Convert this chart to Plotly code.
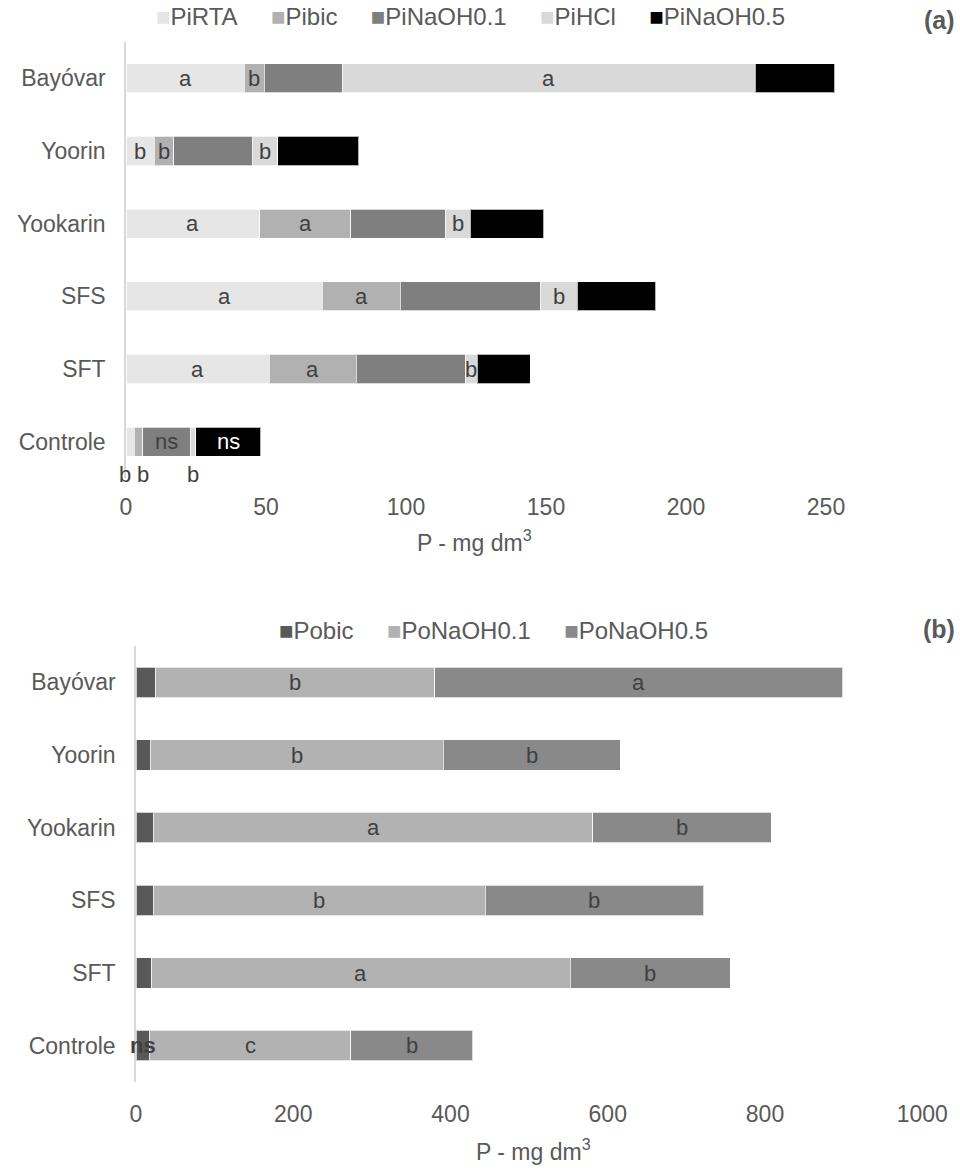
import plotly.graph_objects as go

W, H = 960, 1171

categories = ["Controle", "SFT", "SFS", "Yookarin", "Yoorin", "Bayóvar"]

# ---- (a) inorganic P fractions (P - mg dm3) ----
a_names = ["PiRTA", "Pibic", "PiNaOH0.1", "PiHCl", "PiNaOH0.5"]
a_colors = ["#e6e6e6", "#b1b1b1", "#7f7f7f", "#d9d9d9", "#000000"]
PiRTA = [3.0, 51.2, 70.0, 47.8, 10.0, 42.2]
Pibic = [2.9, 31.1, 28.0, 32.4, 7.1, 7.1]
PiNaOH01 = [17.1, 38.9, 50.0, 33.8, 27.9, 27.9]
PiHCl = [1.9, 4.2, 13.1, 8.9, 9.2, 147.5]
PiNaOH05 = [23.3, 19.0, 28.1, 26.3, 29.0, 28.4]
a_values = [PiRTA, Pibic, PiNaOH01, PiHCl, PiNaOH05]
PiRTA_txt = ["", "a", "a", "a", "b", "a"]
Pibic_txt = ["", "a", "a", "a", "b", "b"]
PiNaOH01_txt = ["ns", "", "", "", "", ""]
PiHCl_txt = ["", "b", "b", "b", "b", "a"]
PiNaOH05_txt = ["ns", "", "", "", "", ""]
a_texts = [PiRTA_txt, Pibic_txt, PiNaOH01_txt, PiHCl_txt, PiNaOH05_txt]
a_textcolors = ["#404040", "#404040", "#404040", "#404040", "#ffffff"]
# letters drawn below the Controle bar (series index, letter, nudge px)
a_below = [(0, "b", -5), (1, "b", 5), (3, "b", 0)]
a_ticks = [0, 50, 100, 150, 200, 250]

# ---- (b) organic P fractions ----
b_names = ["Pobic", "PoNaOH0.1", "PoNaOH0.5"]
b_colors = ["#595959", "#b2b2b2", "#898989"]
Pobic = [17, 20, 22, 22, 18, 25]
PoNaOH01 = [256, 532, 422, 559, 373, 355]
PoNaOH05 = [155, 204, 278, 227, 225, 519]
b_values = [Pobic, PoNaOH01, PoNaOH05]
Pobic_txt = ["<b>ns</b>", "", "", "", "", ""]
PoNaOH01_txt = ["c", "a", "b", "a", "b", "b"]
PoNaOH05_txt = ["b", "b", "b", "b", "b", "a"]
b_texts = [Pobic_txt, PoNaOH01_txt, PoNaOH05_txt]
b_ticks = [0, 200, 400, 600, 800, 1000]

FONT = "Liberation Sans, Arial, sans-serif"
GREY = "#595959"
FS = 23
FS_BAR = 22
FS_LEG = 24


def px_x(p):
    return p / W


def px_y(p):
    return 1 - p / H


fig = go.Figure()

for name, col, vals in zip(a_names, a_colors, a_values):
    fig.add_trace(go.Bar(
        y=categories, x=vals, orientation="h", name=name,
        marker=dict(color=col, line=dict(color="rgba(255,255,255,0.7)", width=1)),
        width=0.4, xaxis="x", yaxis="y", showlegend=False,
        hoverinfo="x+y+name",
    ))

for name, col, vals in zip(b_names, b_colors, b_values):
    fig.add_trace(go.Bar(
        y=categories, x=vals, orientation="h", name=name,
        marker=dict(color=col, line=dict(color="rgba(255,255,255,0.7)", width=1)),
        width=0.42, xaxis="x2", yaxis="y2", showlegend=False,
        hoverinfo="x+y+name",
    ))

annotations = []


def segment_labels(values, texts, colors, xref, yref):
    out = []
    for si, (vals, txts) in enumerate(zip(values, texts)):
        for ci, cat in enumerate(categories):
            t = txts[ci]
            if not t:
                continue
            start = sum(values[k][ci] for k in range(si))
            out.append(dict(
                x=start + vals[ci] / 2, y=cat, xref=xref, yref=yref, text=t,
                showarrow=False, xanchor="center", yanchor="middle",
                font=dict(family=FONT, size=FS_BAR, color=colors[si]),
            ))
    return out


annotations += segment_labels(a_values, a_texts, a_textcolors, "x", "y")
annotations += segment_labels(b_values, b_texts, ["#404040"] * 3, "x2", "y2")

# letters below Controle bar in (a)
for si, letter, nudge in a_below:
    start = sum(a_values[k][0] for k in range(si))
    mid = start + a_values[si][0] / 2
    annotations.append(dict(
        x=mid, y=categories[0], xref="x", yref="y", text=letter, showarrow=False,
        xshift=nudge, yshift=-33, font=dict(family=FONT, size=FS_BAR, color="#404040"),
    ))


def legend_text(names, colors):
    parts = [f'<span style="color:{c}">■</span>{n}' for n, c in zip(names, colors)]
    return "&nbsp;&nbsp;&nbsp;&nbsp;&nbsp;".join(parts)


annotations.append(dict(
    x=px_x(470), y=px_y(17), xref="paper", yref="paper", xanchor="center", yanchor="middle",
    text=legend_text(a_names, a_colors),
    showarrow=False, font=dict(family=FONT, size=FS_LEG, color=GREY),
))
annotations.append(dict(
    x=px_x(493), y=px_y(630), xref="paper", yref="paper", xanchor="center", yanchor="middle",
    text=legend_text(b_names, b_colors),
    showarrow=False, font=dict(family=FONT, size=FS_LEG, color=GREY),
))
annotations.append(dict(
    x=px_x(957), y=px_y(20), xref="paper", yref="paper", xanchor="right", yanchor="middle",
    text="<b>(a)</b>", showarrow=False, font=dict(family=FONT, size=25, color=GREY),
))
annotations.append(dict(
    x=px_x(957), y=px_y(629), xref="paper", yref="paper", xanchor="right", yanchor="middle",
    text="<b>(b)</b>", showarrow=False, font=dict(family=FONT, size=25, color=GREY),
))
annotations.append(dict(
    x=px_x(474), y=px_y(541), xref="paper", yref="paper", xanchor="center", yanchor="middle",
    text="P - mg dm<sup>3</sup>", showarrow=False, font=dict(family=FONT, size=FS, color=GREY),
))
annotations.append(dict(
    x=px_x(533), y=px_y(1150), xref="paper", yref="paper", xanchor="center", yanchor="middle",
    text="P - mg dm<sup>3</sup>", showarrow=False, font=dict(family=FONT, size=FS, color=GREY),
))

axis_common = dict(showgrid=False, zeroline=False, automargin=False,
                   tickfont=dict(family=FONT, size=FS, color=GREY))

fig.update_layout(
    width=W, height=H, margin=dict(l=0, r=0, t=0, b=0),
    paper_bgcolor="white", plot_bgcolor="white",
    barmode="stack", showlegend=False,
    font=dict(family=FONT, color=GREY),
    xaxis=dict(domain=[px_x(126), px_x(882)], range=[0, 270], anchor="y",
               tickvals=a_ticks, ticks="", showline=False, ticklabelstandoff=13, **axis_common),
    yaxis=dict(domain=[px_y(478), px_y(42)], range=[-0.5, 5.5], anchor="x",
               type="category", categoryorder="array", categoryarray=categories,
               showline=True, linecolor="#d9d9d9", linewidth=1.5, ticks="",
               ticklabelstandoff=14, **axis_common),
    xaxis2=dict(domain=[px_x(136), px_x(938)], range=[0, 1020], anchor="y2",
                tickvals=b_ticks, ticks="", showline=False, ticklabelstandoff=16, **axis_common),
    yaxis2=dict(domain=[px_y(1082), px_y(646)], range=[-0.5, 5.5], anchor="x2",
                type="category", categoryorder="array", categoryarray=categories,
                showline=True, linecolor="#d9d9d9", linewidth=1.5, ticks="",
                ticklabelstandoff=14, **axis_common),
    annotations=annotations,
)

fig.write_html("out.html", config={"displayModeBar": False},
               post_script="document.body.style.margin='0px';")
